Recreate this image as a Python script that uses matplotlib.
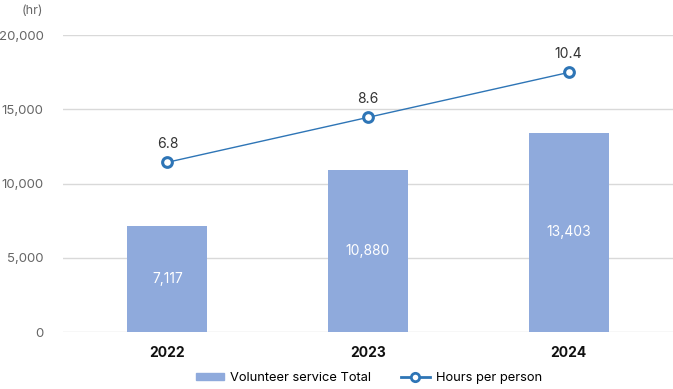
import matplotlib

matplotlib.use("Agg")
import matplotlib.pyplot as plt
from matplotlib.patches import Patch
from matplotlib.lines import Line2D

YEARS = ["2022", "2023", "2024"]
TOTAL_HOURS = [7117, 10880, 13403]
HOURS_PER_PERSON = [6.8, 8.6, 10.4]
Y_TICKS = [0, 5000, 10000, 15000, 20000]

BAR_COLOR = "#8FAADC"
LINE_COLOR = "#2E75B6"
GRID_COLOR = "#D9D9D9"
TICK_COLOR = "#666666"

plt.rcParams["font.family"] = ["Inter", "DejaVu Sans"]

fig = plt.figure(figsize=(6.73, 3.89), dpi=100)
ax = fig.add_axes([0.0936, 0.1465, 0.9064, 0.7635])

x = range(len(YEARS))
ax.bar(x, TOTAL_HOURS, width=0.4, color=BAR_COLOR, zorder=2)
for xi, v in zip(x, TOTAL_HOURS):
    ax.text(xi, v / 2, f"{v:,}", ha="center", va="center", color="white", fontsize=10)

ax.set_xlim(-0.52, 2.52)
ax.set_ylim(0, 20000)
ax.set_yticks(Y_TICKS)
ax.set_yticklabels([f"{t:,}" for t in Y_TICKS])
ax.set_xticks(list(x))
ax.set_xticklabels(YEARS, fontweight="bold", fontsize=10)
ax.tick_params(axis="y", length=0, pad=14, labelsize=9.5, labelcolor=TICK_COLOR)
ax.tick_params(axis="x", length=0, pad=10, labelcolor="#111111")
ax.grid(axis="y", color=GRID_COLOR, linewidth=1, zorder=0)
ax.set_axisbelow(True)
for s in ax.spines.values():
    s.set_visible(False)

ax.text(-0.033, 1.08, "(hr)", transform=ax.transAxes, ha="right", va="center",
        fontsize=9, color=TICK_COLOR)

# secondary (hidden) axis for the per-person line
ax2 = ax.twinx()
ax2.set_ylim(0, 11.9)
ax2.axis("off")
ax2.plot(x, HOURS_PER_PERSON, color=LINE_COLOR, linewidth=1, marker="o",
         markersize=7, markerfacecolor="white", markeredgecolor=LINE_COLOR,
         markeredgewidth=2.2, zorder=3)
for xi, v in zip(x, HOURS_PER_PERSON):
    ax2.annotate(f"{v}", xy=(xi, v), xytext=(0, 8), textcoords="offset points",
                 ha="center", va="bottom", fontsize=10, color="#333333")

handles = [
    Patch(color=BAR_COLOR, label="Volunteer service Total"),
    Line2D([], [], color=LINE_COLOR, linewidth=2, marker="o", markersize=6,
           markerfacecolor="white", markeredgecolor=LINE_COLOR, markeredgewidth=2,
           label="Hours per person"),
]
fig.legend(handles=handles, loc="lower center", bbox_to_anchor=(0.548, -0.018), ncol=2,
           frameon=False, fontsize=9.3, handlelength=2.2, handleheight=0.4,
           columnspacing=2.3, handletextpad=0.5)

fig.savefig("out.png", dpi=100)
